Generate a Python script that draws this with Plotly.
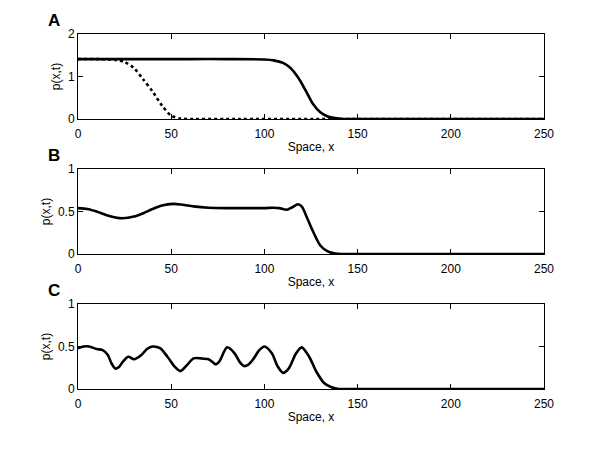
import plotly.graph_objects as go
from plotly.subplots import make_subplots

# Panel A: solid curve and dotted curve
xa_solid = [0, 20, 40, 60, 80, 100, 105, 110, 114, 118, 122, 126, 130, 134, 138, 142, 150, 200, 250]
ya_solid = [1.41, 1.41, 1.41, 1.41, 1.41, 1.40, 1.38, 1.32, 1.20, 0.98, 0.68, 0.36, 0.16, 0.06, 0.02, 0.0, 0, 0, 0]
xa_dot = [0, 10, 20, 25, 30, 35, 40, 45, 50, 55, 60, 80, 150, 250]
ya_dot = [1.41, 1.41, 1.39, 1.34, 1.20, 0.93, 0.65, 0.32, 0.08, 0.01, 0, 0, 0, 0]

# Panel B
xb = [0, 5, 10, 15, 20, 24, 30, 35, 40, 45, 51, 56, 62, 70, 80, 90, 100, 105, 108, 112,
      115, 118, 120, 123, 126, 130, 134, 138, 142, 150, 250]
yb = [0.54, 0.53, 0.50, 0.46, 0.43, 0.42, 0.44, 0.48, 0.53, 0.57, 0.59, 0.58, 0.56, 0.545,
      0.54, 0.54, 0.54, 0.545, 0.54, 0.52, 0.55, 0.585, 0.56, 0.42, 0.27, 0.10, 0.03, 0.005, 0, 0, 0]

# Panel C
xc = [0, 3, 6, 10, 13, 16, 18, 20, 22, 24, 27, 30, 34, 37, 40, 44, 48, 52, 55, 58, 62, 66, 70,
      72, 74, 76, 80, 84, 87, 89, 91, 94, 97, 100, 104, 107, 110, 113, 117, 120, 124, 128, 132,
      136, 140, 150, 250]
yc = [0.48, 0.50, 0.50, 0.47, 0.46, 0.40, 0.30, 0.24, 0.26, 0.32, 0.38, 0.35, 0.40, 0.47,
      0.50, 0.48, 0.38, 0.26, 0.21, 0.27, 0.36, 0.36, 0.35, 0.32, 0.29, 0.33, 0.49, 0.42,
      0.31, 0.27, 0.28, 0.35, 0.45, 0.50, 0.42, 0.27, 0.19, 0.24, 0.42, 0.49, 0.38, 0.20,
      0.07, 0.02, 0, 0, 0]

xticks = [0, 50, 100, 150, 200, 250]
letters = ["A", "B", "C"]

W, H = 600, 452
FONT = "Liberation Sans, Arial, sans-serif"
OFF = 8  # margem padrão do <body> na página
ML, MR, MT, MB = 78 - OFF, 56 + OFF, 20 - OFF, 40 + OFF

# limites em pixels de cada painel na página (topo, base)
paineis = [(34, 119), (169, 254), (304, 389)]

fig = make_subplots(rows=3, cols=1)

linha = dict(color="black", width=2.6, shape="spline", smoothing=0.8)
fig.add_trace(go.Scatter(x=xa_solid, y=ya_solid, mode="lines", line=linha), row=1, col=1)
fig.add_trace(go.Scatter(x=xa_dot, y=ya_dot, mode="lines",
                         line=dict(linha, dash="dot")), row=1, col=1)
fig.add_trace(go.Scatter(x=xb, y=yb, mode="lines", line=linha), row=2, col=1)
fig.add_trace(go.Scatter(x=xc, y=yc, mode="lines", line=linha), row=3, col=1)

eixo = dict(
    showline=True, linecolor="black", linewidth=1, mirror="allticks",
    ticks="inside", ticklen=5, tickcolor="black", showgrid=False, zeroline=False,
    automargin=False,
    tickfont=dict(size=12, color="black", family=FONT),
)

ph = H - MT - MB
for i, (top, bot) in enumerate(paineis):
    n = i + 1
    top, bot = top - OFF, bot - OFF
    dom = [(H - MB - bot) / ph, (H - MB - top) / ph]
    fig.update_xaxes(eixo, range=[0, 250], tickvals=xticks, domain=[0, 1],
                     ticklabelstandoff=4,
                     title=dict(text="Space, x", font=dict(size=12, color="black", family=FONT),
                                standoff=2),
                     row=n, col=1)
    if n == 1:
        yr, yt = [0, 2], [0, 1, 2]
        ytt = ["0", "1", "2"]
    else:
        yr, yt = [0, 1], [0, 0.5, 1]
        ytt = ["0", "0.5", "1"]
    fig.update_yaxes(eixo, range=yr, tickvals=yt, ticktext=ytt, domain=dom,
                     title=dict(text="p(x,t)", font=dict(size=12, color="black", family=FONT),
                                standoff=4),
                     row=n, col=1)
    fig.add_annotation(text="<b>%s</b>" % letters[i], xref="paper", yref="paper",
                       x=(46 - OFF - ML) / (W - ML - MR), y=(H - MB - top + 2) / ph,
                       xanchor="left", yanchor="bottom",
                       showarrow=False, font=dict(size=17, color="black", family=FONT))

fig.update_layout(
    width=W, height=H,
    paper_bgcolor="white", plot_bgcolor="white",
    margin=dict(l=ML, r=MR, t=MT, b=MB, autoexpand=False),
    showlegend=False,
    font=dict(family=FONT, color="black"),
)

fig.write_html("out.html")
